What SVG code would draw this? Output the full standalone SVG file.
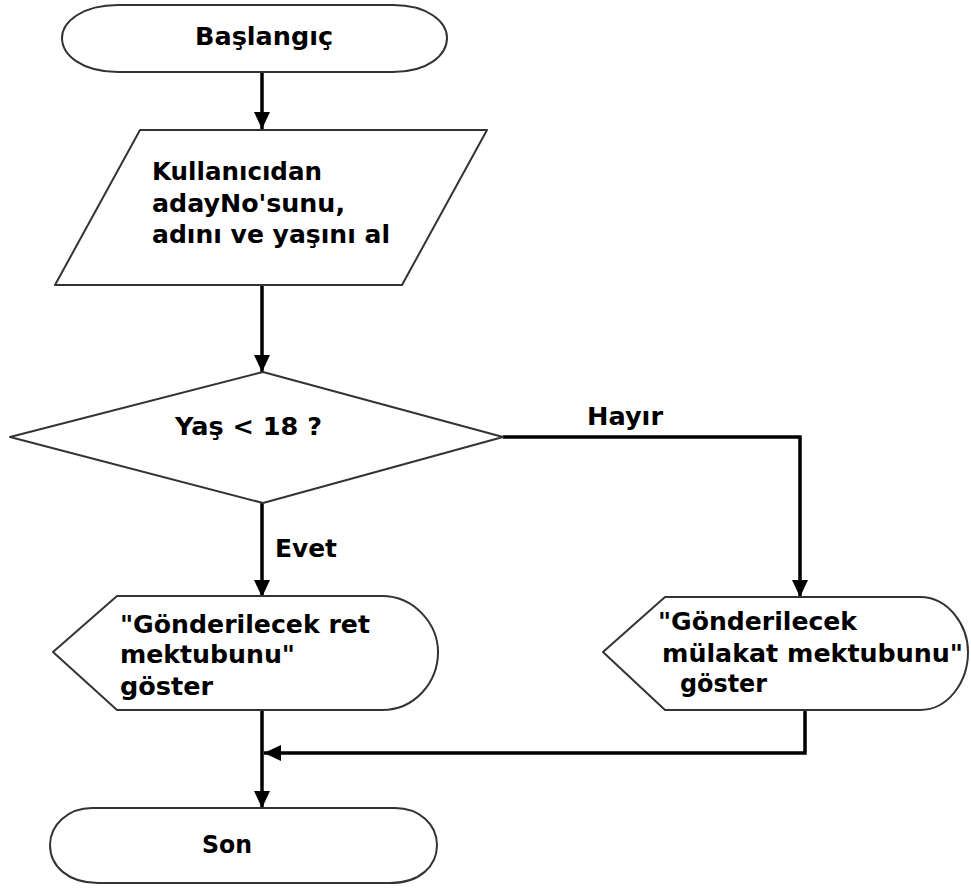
<svg xmlns="http://www.w3.org/2000/svg" width="971" height="888" viewBox="0 0 971 888">
<style>
.shape{fill:#fff;stroke:#333;stroke-width:2;stroke-linejoin:round}
.conn{fill:none;stroke:#000;stroke-width:3.5}
.t{font-family:"DejaVu Sans","Liberation Sans",sans-serif;font-weight:bold;font-size:24px;fill:#000}
</style>
<defs>
<marker id="ah" markerUnits="userSpaceOnUse" markerWidth="18" markerHeight="18" viewBox="0 0 18 18" refX="17" refY="9" orient="auto">
<path d="M0,1 L17,9 L0,17 Z" fill="#000"/>
</marker>
</defs>
<rect width="971" height="888" fill="#fff"/>
<g id="connectors">
<line class="conn" x1="262" y1="72" x2="262" y2="129" marker-end="url(#ah)"/>
<line class="conn" x1="262" y1="285" x2="262" y2="372" marker-end="url(#ah)"/>
<polyline class="conn" points="503,437 800,437 800,597" marker-end="url(#ah)"/>
<line class="conn" x1="262" y1="503" x2="262" y2="597" marker-end="url(#ah)"/>
<line class="conn" x1="262" y1="710" x2="262" y2="808" marker-end="url(#ah)"/>
<polyline class="conn" points="805,710 805,753 264,753" marker-end="url(#ah)"/>
<text class="t" x="587" y="425" textLength="76" lengthAdjust="spacingAndGlyphs">Hayır</text>
<text class="t" x="275" y="557" textLength="62" lengthAdjust="spacingAndGlyphs">Evet</text>
</g>
<g id="start">
<path class="shape" d="M118,5 L393,5 C428,5 447,22 447,38 C447,55 428,72 393,72 L118,72 C82,72 62,55 62,38 C62,22 82,5 118,5 Z"/>
<text class="t" x="195" y="45" textLength="138" lengthAdjust="spacingAndGlyphs">Başlangıç</text>
</g>
<g id="input">
<path class="shape" d="M140,130 L487,130 L402,285 L55,285 Z"/>
<text class="t" x="152" y="180" textLength="170" lengthAdjust="spacingAndGlyphs">Kullanıcıdan</text>
<text class="t" x="152" y="212" textLength="193" lengthAdjust="spacingAndGlyphs">adayNo'sunu,</text>
<text class="t" x="152" y="243" textLength="238" lengthAdjust="spacingAndGlyphs">adını ve yaşını al</text>
</g>
<g id="decision">
<path class="shape" d="M263,372 L503,437 L263,503 L10,437 Z"/>
<text class="t" x="175" y="435" textLength="147" lengthAdjust="spacingAndGlyphs">Yaş &lt; 18 ?</text>
</g>
<g id="reject">
<path class="shape" d="M117,596 L382,596 C415,596 438,625 438,652 C438,682 415,710 382,710 L117,710 L53,652 Z"/>
<text class="t" x="120" y="633" textLength="250" lengthAdjust="spacingAndGlyphs">"Gönderilecek ret</text>
<text class="t" x="120" y="663" textLength="175" lengthAdjust="spacingAndGlyphs">mektubunu"</text>
<text class="t" x="120" y="695" textLength="93" lengthAdjust="spacingAndGlyphs">göster</text>
</g>
<g id="interview">
<path class="shape" d="M665,597 L920,597 C948,597 968,625 968,652 C968,682 948,710 920,710 L665,710 L603,652 Z"/>
<text class="t" x="658" y="630" textLength="199" lengthAdjust="spacingAndGlyphs">"Gönderilecek</text>
<text class="t" x="662" y="662" textLength="301" lengthAdjust="spacingAndGlyphs">mülakat mektubunu"</text>
<text class="t" x="680" y="692" textLength="87" lengthAdjust="spacingAndGlyphs">göster</text>
</g>
<g id="end">
<path class="shape" d="M92,808 L395,808 C420,808 437,825 437,845 C437,866 420,883 390,883 L98,883 C68,883 50,866 50,845 C50,825 68,808 92,808 Z"/>
<text class="t" x="202" y="853" textLength="50" lengthAdjust="spacingAndGlyphs">Son</text>
</g>
</svg>
